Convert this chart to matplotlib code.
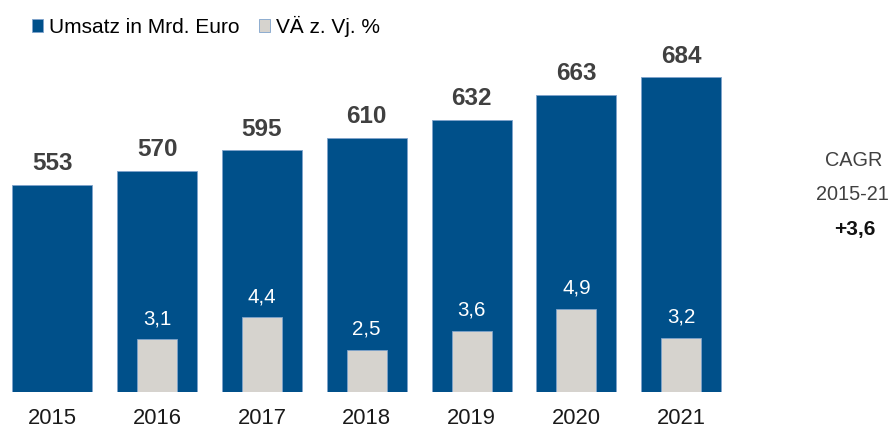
import numpy as np
import matplotlib
matplotlib.use("Agg")
import matplotlib.pyplot as plt

plt.rcParams["font.family"] = ["Liberation Sans", "DejaVu Sans"]

# ---------------------------------------------------------
# Data
# ---------------------------------------------------------
years = ["2015", "2016", "2017", "2018", "2019", "2020", "2021"]
umsatz = [553, 570, 595, 610, 632, 663, 684]
veraenderung = [np.nan, 3.1, 4.4, 2.5, 3.6, 4.9, 3.2]
cagr_value = "+3,6"

blue = "#00508A"
grey = "#D6D3CE"
edge = "#7FA3CC"
text_dark = "#404040"

# ---------------------------------------------------------
# Figure
# ---------------------------------------------------------
fig = plt.figure(figsize=(8.95, 4.28), dpi=100)
ax = fig.add_axes([0.0, 36 / 428, 733.5 / 895, 392 / 428])
ax2 = ax.twinx()

x = np.arange(len(years))

b1 = ax.bar(x, umsatz, width=0.763, color=blue, edgecolor=edge, linewidth=0.6,
            label="Umsatz in Mrd. Euro")
b2 = ax2.bar(x, veraenderung, width=0.382, color=grey, edgecolor=edge, linewidth=0.6,
             label="VÄ z. Vj. %")

ax.set_xlim(-0.5, len(years) - 0.5)
ax.set_ylim(301, 778)
ax2.set_ylim(0, 23.06)

for a in (ax, ax2):
    for s in a.spines.values():
        s.set_visible(False)
    a.set_yticks([])

ax.set_xticks(x)
ax.set_xticklabels(years, fontsize=15.8, color="#1a1a1a")
ax.tick_params(axis="x", length=0, pad=11.5)

# value labels
for xi, v in zip(x, umsatz):
    ax.annotate(f"{v}", (xi, v), xytext=(0, 7), textcoords="offset points",
                ha="center", va="bottom", fontsize=17.5, fontweight="bold",
                color=text_dark)

for xi, v in zip(x, veraenderung):
    if np.isnan(v):
        continue
    ax2.annotate(f"{v:.1f}".replace(".", ","), (xi, v), xytext=(0, 8),
                 textcoords="offset points", ha="center", va="bottom",
                 fontsize=14.8, color="white")

# CAGR box
fig.text(854 / 895, 1 - 160 / 428, "CAGR", ha="center", va="center",
         fontsize=14.3, color=text_dark)
fig.text(852 / 895, 1 - 195 / 428, "2015-21", ha="center", va="center",
         fontsize=14.3, color=text_dark)
fig.text(855 / 895, 1 - 229 / 428, cagr_value, ha="center", va="center",
         fontsize=15, fontweight="bold", color="#111111")

# legend
fig.legend(handles=[b1, b2], loc="upper left", bbox_to_anchor=(0.024, 0.988),
           ncol=2, frameon=False, fontsize=15, handlelength=0.55,
           handleheight=0.55, handletextpad=0.25, columnspacing=0.95,
           borderaxespad=0.3, borderpad=0.2)

fig.savefig("out.png", dpi=100)
